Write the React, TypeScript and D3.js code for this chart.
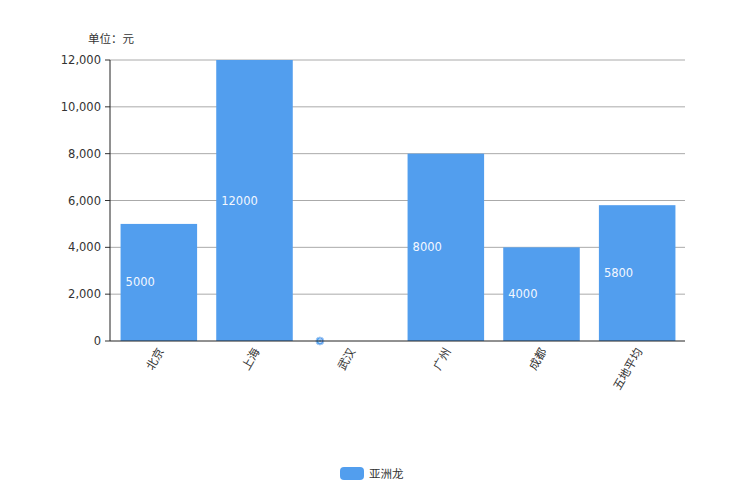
import React from "react";
import * as d3 from "d3";

const categories = ["北京", "上海", "武汉", "广州", "成都", "五地平均"];
const values = [5000, 12000, 0, 8000, 4000, 5800];
const yTicks = [0, 2000, 4000, 6000, 8000, 10000, 12000];
const seriesName = "亚洲龙";
const unitLabel = "单位：元";

const W = 744;
const H = 496;
const FONT = "'DejaVu Sans', 'Noto Sans CJK SC', sans-serif";
const BAR = "#529EEE";

export default function App() {
  const x = d3.scaleBand<string>().domain(categories).range([111, 685]).paddingInner(0.2).paddingOuter(0.1);
  const y = d3.scaleLinear().domain([0, 12000]).range([341, 60]);
  const fmt = d3.format(",");
  return (
    <svg width={W} height={H} style={{ position: "absolute", left: 0, top: 0, fontFamily: FONT }}>
      <text x={88} y={43} fontSize={11.5} fill="#333">{unitLabel}</text>
      {yTicks.map((t) => (
        <g key={t}>
          {t > 0 && <line x1={110} x2={685} y1={y(t)} y2={y(t)} stroke="#aaa" strokeWidth={1} />}
          <line x1={105} x2={110} y1={y(t)} y2={y(t)} stroke="#333" />
          <text x={101} y={y(t)} dy="0.35em" textAnchor="end" fontSize={11.5} fill="#333">{fmt(t)}</text>
        </g>
      ))}
      {categories.map((c, i) => {
        const bx = x(c)!;
        const v = values[i];
        const top = y(v);
        const mid = (top + y(0)) / 2;
        return (
          <g key={c}>
            {v > 0 && <rect x={bx} y={top} width={x.bandwidth()} height={y(0) - top} fill={BAR} />}
            {v > 0 ? (
              <text x={bx + 5} y={mid} dy="0.35em" fontSize={11.5} fill="#f4f8ff">{v}</text>
            ) : (
              <g>
                <circle cx={bx + 8} cy={y(0)} r={4} fill={BAR} stroke="#aacdf5" />
                <text x={bx + 8} y={y(0)} dy="0.35em" textAnchor="middle" fontSize={6} fill="#fff">{v}</text>
              </g>
            )}
          </g>
        );
      })}
      <line x1={110} x2={110} y1={60} y2={341} stroke="#222" />
      <line x1={110} x2={685} y1={341} y2={341} stroke="#222" />
      {categories.map((c) => {
        const cx = x(c)! + x.bandwidth() / 2 + 2;
        return (
          <text key={c} transform={`translate(${cx},${349}) rotate(-60)`} textAnchor="end" dy="0.35em" fontSize={11.5} fill="#333">{c}</text>
        );
      })}
      <rect x={340} y={467} width={24} height={13} rx={4} fill={BAR} />
      <text x={369} y={474} dy="0.35em" fontSize={11.5} fill="#333">{seriesName}</text>
    </svg>
  );
}
